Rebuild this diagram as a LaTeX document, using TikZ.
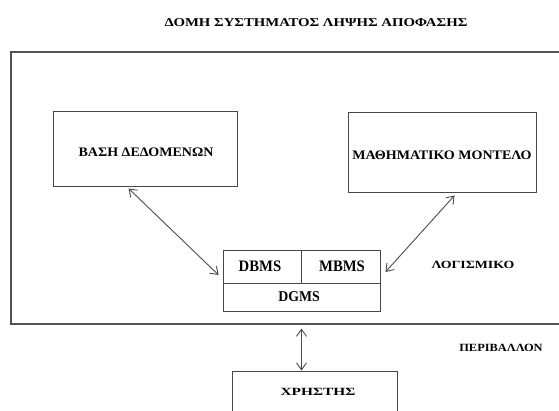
\documentclass[tikz,border=0pt]{standalone}
\usepackage{graphicx}
\usepackage{fontspec}
\setmainfont{Liberation Serif}
\usetikzlibrary{calc,arrows.meta}
% bold label text, set at a given size and widened by a given factor
\newcommand{\lbltext}[3]{\scalebox{#2}[1]{\bfseries\fontsize{#1}{#1}\selectfont #3}}
\begin{document}
\begin{tikzpicture}[x=1pt,y=-1pt,
  frame/.style={draw=black!68,line width=1.1pt,inner sep=0pt},
  box/.style={draw=black!72,line width=0.9pt,inner sep=0pt},
  lbl/.style={text=black, inner sep=0pt},
  link/.style={draw=black!70,line width=0.9pt,{Straight Barb[length=7pt,width=10pt]}-{Straight Barb[length=7pt,width=10pt]}}]
  \useasboundingbox (0,0) rectangle (559,410);
  \clip (0,0) rectangle (559,410);

  % title
  \node[lbl] (title) at (316,23) {\lbltext{12}{1.23}{ΔΟΜΗ ΣΥΣΤΗΜΑΤΟΣ ΛΗΨΗΣ ΑΠΟΦΑΣΗΣ}};

  % software environment frame (runs past the right edge)
  \node[frame,minimum width=569pt,minimum height=272pt] (outer) at (295.5,188) {};

  % components
  \node[box,minimum width=184pt,minimum height=75pt] (b1) at (145,148.5) {};
  \node[lbl] (b1t) at (146,152) {\lbltext{13}{1.08}{ΒΑΣΗ ΔΕΔΟΜΕΝΩΝ}};

  \node[box,minimum width=188pt,minimum height=80pt] (b2) at (442,152) {};
  \node[lbl] (b2t) at (442,155) {\lbltext{13}{1.08}{ΜΑΘΗΜΑΤΙΚΟ ΜΟΝΤΕΛΟ}};

  \node[box,minimum width=78pt,minimum height=33pt] (dbms) at (262,266.5) {};
  \node[box,minimum width=79pt,minimum height=33pt] (mbms) at (340.5,266.5) {};
  \node[box,minimum width=157pt,minimum height=28pt] (dgms) at (301.5,297) {};
  \node[lbl] (dbmst) at (260,266.5) {\lbltext{16}{0.92}{DBMS}};
  \node[lbl] (mbmst) at (342,266.5) {\lbltext{16}{0.92}{MBMS}};
  \node[lbl] (dgmst) at (299,297) {\lbltext{15}{0.92}{DGMS}};

  \node[box,minimum width=165pt,minimum height=60pt] (user) at (314.5,401) {};
  \node[lbl] (usert) at (318,392) {\lbltext{11}{1.4}{ΧΡΗΣΤΗΣ}};

  % side labels
  \node[lbl] (soft) at (473,265) {\lbltext{11}{1.26}{ΛΟΓΙΣΜΙΚΟ}};
  \node[lbl] (env) at (501,348) {\lbltext{11}{1.13}{ΠΕΡΙΒΑΛΛΟΝ}};

  % connections
  \draw[link] ($(b1.south west)+(76,2)$) -- ($(dbms.west)+(-4,8.5)$);
  \draw[link] ($(b2.south west)+(107,3)$) -- ($(mbms.east)+(5,5.5)$);
  \draw[link] ($(outer.south -| dgms.south)+(0,4)$) -- (dgms.south |- user.north);
\end{tikzpicture}
\end{document}
